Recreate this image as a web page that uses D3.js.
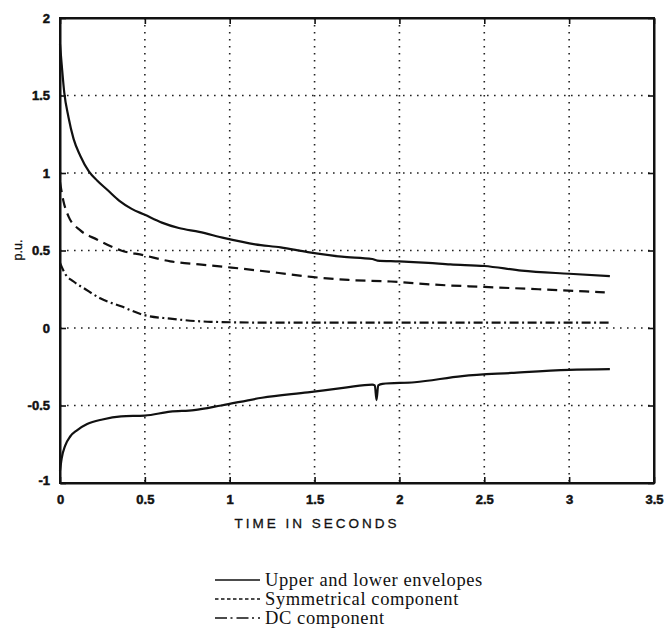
<!DOCTYPE html>
<html>
<head>
<meta charset="utf-8">
<script src="https://cdn.jsdelivr.net/npm/d3@7"></script>
<style>
  html, body { margin: 0; padding: 0; background: #fff; }
  svg { display: block; }
</style>
</head>
<body>
<svg id="chart" width="664" height="638"></svg>
<script>
// Envelope and component traces (time in seconds, value in p.u.)
const upperT = [0, 0.01, 0.025, 0.05, 0.08, 0.12, 0.17, 0.22, 0.28, 0.35, 0.42, 0.5, 0.6, 0.7, 0.82, 0.97, 1.15, 1.3, 1.46, 1.66, 1.84, 1.87, 2.0, 2.17, 2.3, 2.5, 2.72, 3.0, 3.24];
const upperV = [1.83, 1.70, 1.52, 1.36, 1.22, 1.11, 1.01, 0.95, 0.89, 0.82, 0.77, 0.73, 0.68, 0.645, 0.62, 0.58, 0.54, 0.52, 0.49, 0.46, 0.445, 0.435, 0.43, 0.42, 0.41, 0.40, 0.37, 0.35, 0.335];

const lowerT = [0, 0.01, 0.03, 0.06, 0.1, 0.16, 0.25, 0.36, 0.5, 0.65, 0.79, 0.95, 1.19, 1.46, 1.68, 1.84, 1.855, 1.865, 1.875, 1.9, 2.09, 2.37, 2.66, 3.0, 3.24];
const lowerV = [-0.92, -0.84, -0.76, -0.70, -0.66, -0.62, -0.59, -0.57, -0.565, -0.54, -0.53, -0.50, -0.45, -0.415, -0.385, -0.365, -0.37, -0.465, -0.37, -0.36, -0.35, -0.31, -0.29, -0.27, -0.265];

const symT = [0, 0.02, 0.05, 0.12, 0.22, 0.36, 0.49, 0.65, 0.82, 1.01, 1.29, 1.48, 1.70, 1.95, 2.2, 2.5, 2.82, 3.21];
const symV = [0.94, 0.82, 0.72, 0.63, 0.57, 0.50, 0.47, 0.43, 0.41, 0.39, 0.355, 0.33, 0.31, 0.30, 0.28, 0.265, 0.25, 0.23];

const dcT = [0, 0.03, 0.08, 0.15, 0.24, 0.36, 0.49, 0.65, 0.89, 1.2, 1.6, 2.0, 2.5, 3.0, 3.24];
const dcV = [0.42, 0.35, 0.30, 0.25, 0.19, 0.14, 0.085, 0.06, 0.04, 0.035, 0.035, 0.035, 0.035, 0.035, 0.035];

const xTicks = [0, 0.5, 1, 1.5, 2, 2.5, 3, 3.5];
const xTickLabels = ["0", "0.5", "1", "1.5", "2", "2.5", "3", "3.5"];
const yTicks = [-1, -0.5, 0, 0.5, 1, 1.5, 2];
const yTickLabels = ["-1", "-0.5", "0", "0.5", "1", "1.5", "2"];

const legendLabels = ["Upper and lower envelopes", "Symmetrical component", "DC component"];
const xTitle = "TIME IN SECONDS";
const yTitle = "p.u.";

const svg = d3.select("#chart");
const x = d3.scaleLinear().domain([0, 3.5]).range([60, 654]);
const y = d3.scaleLinear().domain([-1, 2]).range([483, 18]);

const ink = "#111";
const sans = "'Liberation Sans', Arial, sans-serif";

// dotted grid
const grid = svg.append("g").attr("stroke", "#222").attr("stroke-width", 1.6)
  .attr("stroke-dasharray", "1.6,5.4").attr("stroke-linecap", "butt");
grid.selectAll("line.gx").data(xTicks.slice(1, -1)).join("line")
  .attr("x1", d => x(d)).attr("x2", d => x(d)).attr("y1", y(2)).attr("y2", y(-1));
grid.selectAll("line.gy").data(yTicks.slice(1, -1)).join("line")
  .attr("x1", x(0)).attr("x2", x(3.5)).attr("y1", d => y(d)).attr("y2", d => y(d));

// axes with inward ticks
const xAxis = svg.append("g").attr("transform", `translate(0,${y(-1)})`)
  .call(d3.axisBottom(x).tickValues(xTicks).tickFormat((d, i) => xTickLabels[i]).tickSizeInner(-6).tickSizeOuter(0).tickPadding(12));
const yAxis = svg.append("g").attr("transform", `translate(${x(0)},0)`)
  .call(d3.axisLeft(y).tickValues(yTicks).tickFormat((d, i) => yTickLabels[i]).tickSizeInner(-6).tickSizeOuter(0).tickPadding(10));
svg.append("g").attr("transform", `translate(${x(3.5)},0)`)
  .call(d3.axisRight(y).tickValues(yTicks).tickFormat("").tickSizeInner(-6).tickSizeOuter(0));
svg.append("g").attr("transform", `translate(0,${y(2)})`)
  .call(d3.axisTop(x).tickValues(xTicks).tickFormat("").tickSizeInner(-6).tickSizeOuter(0));

svg.selectAll(".domain").attr("stroke", ink).attr("stroke-width", 2);
svg.selectAll(".tick line").attr("stroke", ink).attr("stroke-width", 1.6);
// heavy, slightly smudged tick labels
[xAxis, yAxis].forEach(a => a.selectAll("text")
  .style("font-family", sans).style("font-size", "13px").style("font-weight", "700")
  .attr("fill", ink).attr("stroke", ink).attr("stroke-width", 0.5));
yAxis.selectAll(".tick").filter(d => d === -1).select("text").attr("dy", "0.1em");

// frame
svg.append("rect").attr("x", x(0)).attr("y", y(2)).attr("width", x(3.5) - x(0)).attr("height", y(-1) - y(2))
  .attr("fill", "none").attr("stroke", ink).attr("stroke-width", 2);

// traces
const line = d3.line().x(d => x(d[0])).y(d => y(d[1])).curve(d3.curveMonotoneX);
const zip = (t, v) => t.map((d, i) => [d, v[i]]);
const traces = [
  { pts: zip(upperT, upperV), dash: null },
  { pts: zip(lowerT, lowerV), dash: null },
  { pts: zip(symT, symV), dash: "10,6" },
  { pts: zip(dcT, dcV), dash: "9,3.5,2,3.5" }
];
svg.append("g").selectAll("path").data(traces).join("path")
  .attr("d", d => line(d.pts)).attr("fill", "none").attr("stroke", ink)
  .attr("stroke-width", 2.2).attr("stroke-dasharray", d => d.dash);

// axis titles
svg.append("text").attr("x", 317).attr("y", 528).attr("text-anchor", "middle")
  .style("font-family", sans).style("font-size", "13.5px").style("letter-spacing", "3px")
  .attr("fill", ink).attr("stroke", ink).attr("stroke-width", 0.3).text(xTitle);
svg.append("text").attr("transform", "translate(22,250) rotate(-90)").attr("text-anchor", "middle")
  .style("font-family", sans).style("font-size", "12.5px").attr("fill", ink)
  .attr("stroke", ink).attr("stroke-width", 0.3).text(yTitle);

// legend
const legDash = [null, "3.5,2.5", "12,3.5,2,4"];
const leg = svg.append("g");
legendLabels.forEach((lab, i) => {
  const by = 586 + i * 19;
  leg.append("line").attr("x1", 215).attr("x2", 260).attr("y1", by - 6).attr("y2", by - 6)
    .attr("stroke", ink).attr("stroke-width", 1.3).attr("stroke-dasharray", legDash[i]);
  leg.append("text").attr("x", 265).attr("y", by)
    .style("font-family", "'Liberation Serif', 'Times New Roman', serif").style("font-size", "18.5px")
    .style("letter-spacing", "0.6px").attr("fill", ink).text(lab);
});
</script>
</body>
</html>
